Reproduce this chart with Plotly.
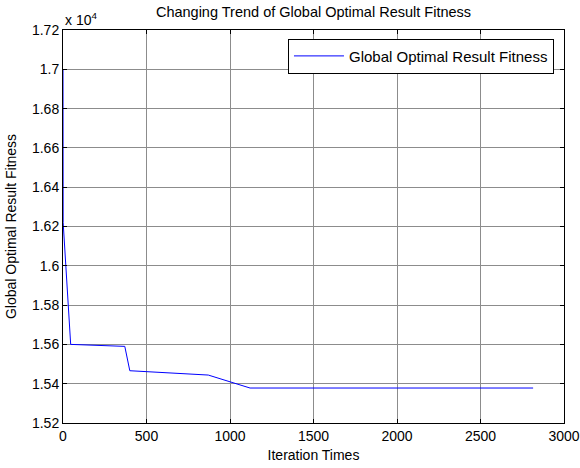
import plotly.graph_objects as go

# Data
iterations = [0, 1, 46, 370, 400, 870, 1120, 2815]
fitness = [17000, 16220, 15600, 15590, 15466, 15444, 15378, 15378]

y_tick_vals = [15200, 15400, 15600, 15800, 16000, 16200, 16400, 16600, 16800, 17000, 17200]
y_tick_text = ["1.52", "1.54", "1.56", "1.58", "1.6", "1.62", "1.64", "1.66", "1.68", "1.7", "1.72"]
x_tick_vals = [0, 500, 1000, 1500, 2000, 2500, 3000]

series_name = "Global Optimal Result Fitness"
title_text = "Changing Trend of Global Optimal Result Fitness"

FONT = "Arial, Liberation Sans, sans-serif"

fig = go.Figure()
fig.add_trace(go.Scatter(
    x=iterations, y=fitness, mode="lines", name=series_name,
    line=dict(color="#0000FF", width=1),
))

axis_common = dict(
    showline=True, linecolor="black", linewidth=1, mirror="allticks",
    ticks="inside", ticklen=4, tickcolor="black",
    showgrid=True, gridcolor="#8c8c8c", gridwidth=1,
    zeroline=False, automargin=False,
    ticklabeloverflow="allow",
    tickfont=dict(family=FONT, size=14, color="black"),
)

fig.update_layout(
    width=580, height=468,
    margin=dict(l=63, r=16, t=30, b=45),
    paper_bgcolor="white", plot_bgcolor="white",
    font=dict(family=FONT, size=14, color="black"),
    title=dict(text=title_text, x=0.5, xref="paper", xanchor="center",
               y=1 - 12 / 468, yanchor="middle",
               font=dict(family=FONT, size=14.5, color="black")),
    xaxis=dict(range=[0, 3000], tickvals=x_tick_vals,
               title=dict(text="Iteration Times", standoff=7,
                          font=dict(family=FONT, size=14)),
               **axis_common),
    yaxis=dict(range=[15200, 17200], tickvals=y_tick_vals, ticktext=y_tick_text,
               title=dict(text="Global Optimal Result Fitness", standoff=12,
                          font=dict(family=FONT, size=14)),
               **axis_common),
    showlegend=True,
    legend=dict(x=0.98, y=0.978, xanchor="right", yanchor="top",
                itemwidth=50,
                bgcolor="white", bordercolor="black", borderwidth=1,
                font=dict(family=FONT, size=15, color="black")),
    annotations=[dict(text="x 10<sup>4</sup>", xref="paper", yref="paper",
                      x=0, y=1, xanchor="left", yanchor="bottom", yshift=0,
                      showarrow=False, font=dict(family=FONT, size=14, color="black"))],
)

fig.write_html(
    "out.html",
    config={"displayModeBar": False},
    post_script="document.body.style.margin='0';document.body.style.padding='0';document.body.style.overflow='hidden';",
)
